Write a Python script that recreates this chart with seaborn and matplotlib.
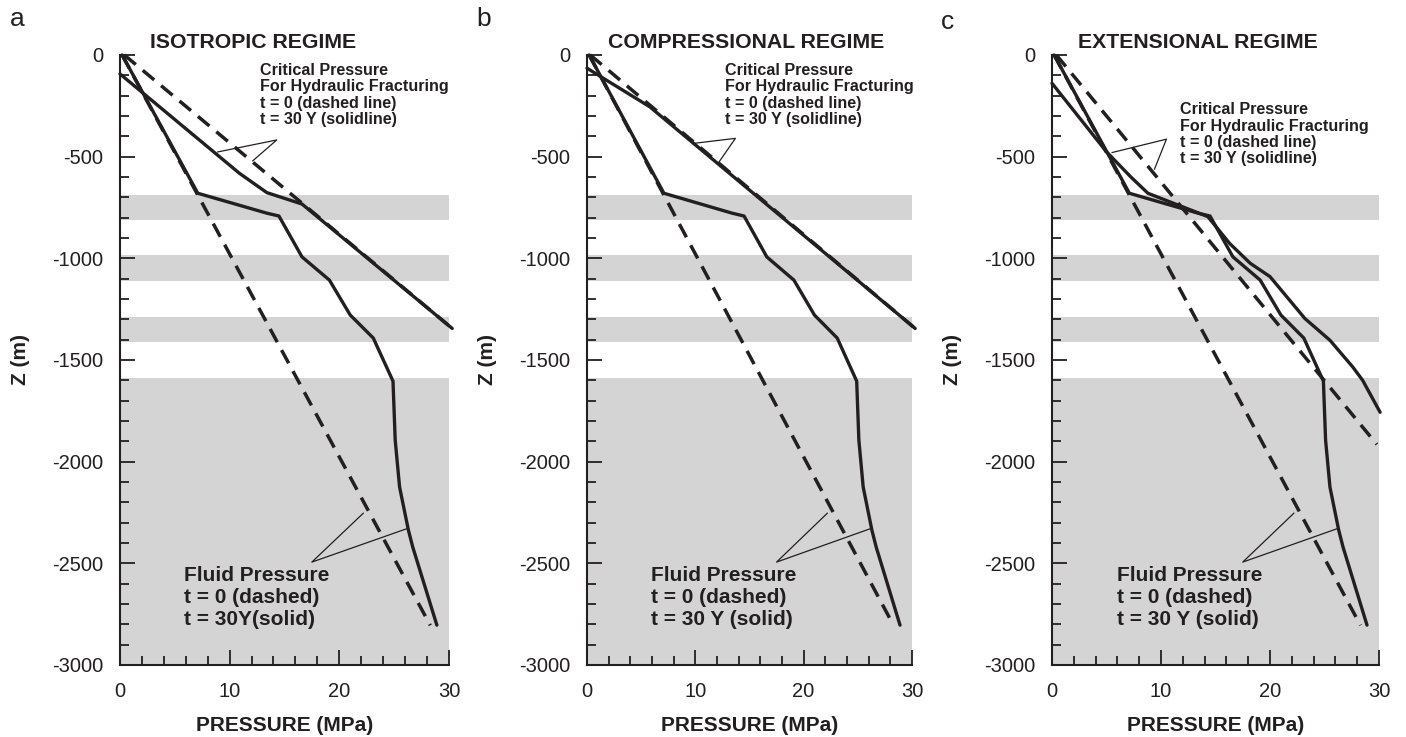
import matplotlib
matplotlib.use("Agg")
import matplotlib.pyplot as plt
import seaborn as sns
import pandas as pd
from matplotlib.ticker import MultipleLocator

# ---------------- data ----------------
panel_letters = ["a", "b", "c"]
panel_titles = ["ISOTROPIC REGIME", "COMPRESSIONAL REGIME", "EXTENSIONAL REGIME"]

band_top = [-690, -985, -1290, -1590]
band_bottom = [-810, -1110, -1410, -3000]

# fluid pressure (same in all three regimes)
fluid_t0_p = [0.2, 28.3]
fluid_t0_z = [0, -2805]
fluid_t30_p = [0.2, 7.1, 13.4, 14.5, 16.6, 19.1, 21.0, 23.1, 24.9, 25.0, 25.1, 25.5, 26.3, 26.7, 28.9]
fluid_t30_z = [0, -680, -778, -792, -993, -1107, -1279, -1392, -1604, -1750, -1894, -2125, -2336, -2420, -2804]

# critical pressure for hydraulic fracturing
crit_t0_p_a = [0.4, 30.3]
crit_t0_z_a = [0, -1345]
crit_t30_p_a = [0.0, 10.9, 13.4, 16.6, 30.3]
crit_t30_z_a = [-93, -582, -677, -733, -1345]

crit_t0_p_b = [0.3, 30.3]
crit_t0_z_b = [0, -1345]
crit_t30_p_b = [0.0, 5.8, 30.3]
crit_t30_z_b = [-65, -255, -1345]

crit_t0_p_c = [0.4, 29.8]
crit_t0_z_c = [0, -1915]
crit_t30_p_c = [0.0, 5.0, 7.2, 8.8, 10.8, 14.3, 16.3, 18.2, 20.0, 23.2, 25.5, 27.6, 28.5, 30.1]
crit_t30_z_c = [-139, -476, -598, -680, -722, -795, -927, -1025, -1090, -1296, -1403, -1535, -1600, -1757]

crit_label = "Critical Pressure\nFor Hydraulic Fracturing\nt = 0 (dashed line)\nt = 30 Y (solidline)"
fluid_labels = ["Fluid Pressure\nt = 0 (dashed)\nt = 30Y(solid)",
                "Fluid Pressure\nt = 0 (dashed)\nt = 30 Y (solid)",
                "Fluid Pressure\nt = 0 (dashed)\nt = 30 Y (solid)"]

crit_t0_p = [crit_t0_p_a, crit_t0_p_b, crit_t0_p_c]
crit_t0_z = [crit_t0_z_a, crit_t0_z_b, crit_t0_z_c]
crit_t30_p = [crit_t30_p_a, crit_t30_p_b, crit_t30_p_c]
crit_t30_z = [crit_t30_z_a, crit_t30_z_b, crit_t30_z_c]

# ---------------- layout ----------------
axes_rects = [(0.0853, 0.0977, 0.2340, 0.8277),
              (0.4175, 0.0977, 0.2311, 0.8277),
              (0.7482, 0.0977, 0.2326, 0.8277)]
title_x = [0.404, 0.489, 0.446]
letter_pos = [(0.012, 0.974), (0.344, 0.974), (0.674, 0.970)]
crit_text_pos = [(12.8, -38), (12.7, -38), (11.7, -232)]
crit_pointer = [((14.3, -418), (8.9, -477), (12.1, -521)),
                ((13.7, -410), (9.8, -435), (12.1, -533)),
                ((10.5, -414), (5.5, -480), (9.4, -562))]
fluid_text_pos = [(5.8, -2512), (5.9, -2512), (6.0, -2512)]
fluid_pointer = ((17.5, -2494), (22.2, -2253), (26.3, -2327))

INK = "#231f20"
BAND = "#d4d4d4"

sns.set_style("ticks")
plt.rcParams["font.family"] = ["Liberation Sans", "DejaVu Sans"]
plt.rcParams["axes.unicode_minus"] = False
plt.rcParams["text.color"] = INK
plt.rcParams["axes.labelcolor"] = INK
plt.rcParams["xtick.color"] = INK
plt.rcParams["ytick.color"] = INK

fig = plt.figure(figsize=(14.06, 7.37), dpi=100)

dash = (4.3, 2.6)
for i in range(3):
    ax = fig.add_axes(axes_rects[i])
    for top, bot in zip(band_top, band_bottom):
        ax.axhspan(bot, top, xmin=0, xmax=1, color=BAND, lw=0, zorder=0)

    df_f0 = pd.DataFrame({"p": fluid_t0_p, "z": fluid_t0_z})
    df_f30 = pd.DataFrame({"p": fluid_t30_p, "z": fluid_t30_z})
    df_c0 = pd.DataFrame({"p": crit_t0_p[i], "z": crit_t0_z[i]})
    df_c30 = pd.DataFrame({"p": crit_t30_p[i], "z": crit_t30_z[i]})

    sns.lineplot(data=df_f0, x="p", y="z", sort=False, estimator=None, ax=ax,
                 color=INK, lw=2.5, linestyle=(0, dash), clip_on=False, zorder=3)
    sns.lineplot(data=df_c0, x="p", y="z", sort=False, estimator=None, ax=ax,
                 color=INK, lw=2.5, linestyle=(0, dash), clip_on=False, zorder=3)
    sns.lineplot(data=df_f30, x="p", y="z", sort=False, estimator=None, ax=ax,
                 color=INK, lw=2.4, clip_on=False, zorder=4)
    sns.lineplot(data=df_c30, x="p", y="z", sort=False, estimator=None, ax=ax,
                 color=INK, lw=2.4, clip_on=False, zorder=4)

    ax.set_xlim(0, 30)
    ax.set_ylim(-3000, 0)
    ax.xaxis.set_major_locator(MultipleLocator(10))
    ax.xaxis.set_minor_locator(MultipleLocator(2))
    ax.yaxis.set_major_locator(MultipleLocator(500))
    ax.yaxis.set_minor_locator(MultipleLocator(100))
    ax.tick_params(which="major", direction="in", length=11, width=1.3, labelsize=14.5, pad=12)
    ax.tick_params(which="minor", direction="in", length=6.5, width=1.3)
    for s in ["top", "right"]:
        ax.spines[s].set_visible(False)
    for s in ["left", "bottom"]:
        ax.spines[s].set_linewidth(1.5)
        ax.spines[s].set_color(INK)
    ax.set_xlabel("PRESSURE (MPa)", fontsize=15, fontweight="bold", labelpad=11)
    ax.set_ylabel("Z (m)", fontsize=15, fontweight="bold", labelpad=16)
    ax.set_facecolor("white")

    ax.text(title_x[i], 1.0197, panel_titles[i], transform=ax.transAxes, ha="center",
            va="center", fontsize=15.3, fontweight="bold")
    fig.text(letter_pos[i][0], letter_pos[i][1], panel_letters[i], fontsize=19, ha="center", va="center")

    ax.text(crit_text_pos[i][0], crit_text_pos[i][1], crit_label, fontsize=11.6,
            fontweight="bold", ha="left", va="top", linespacing=1.12)
    apex, t1, t2 = crit_pointer[i]
    ax.plot([t1[0], apex[0], t2[0]], [t1[1], apex[1], t2[1]], color=INK, lw=0.9, zorder=5)

    ax.text(fluid_text_pos[i][0], fluid_text_pos[i][1], fluid_labels[i], fontsize=15,
            fontweight="bold", ha="left", va="top", linespacing=1.22)
    apex, t1, t2 = fluid_pointer
    ax.plot([t1[0], apex[0], t2[0]], [t1[1], apex[1], t2[1]], color=INK, lw=0.9, zorder=5)

fig.savefig("out.png", dpi=100)
